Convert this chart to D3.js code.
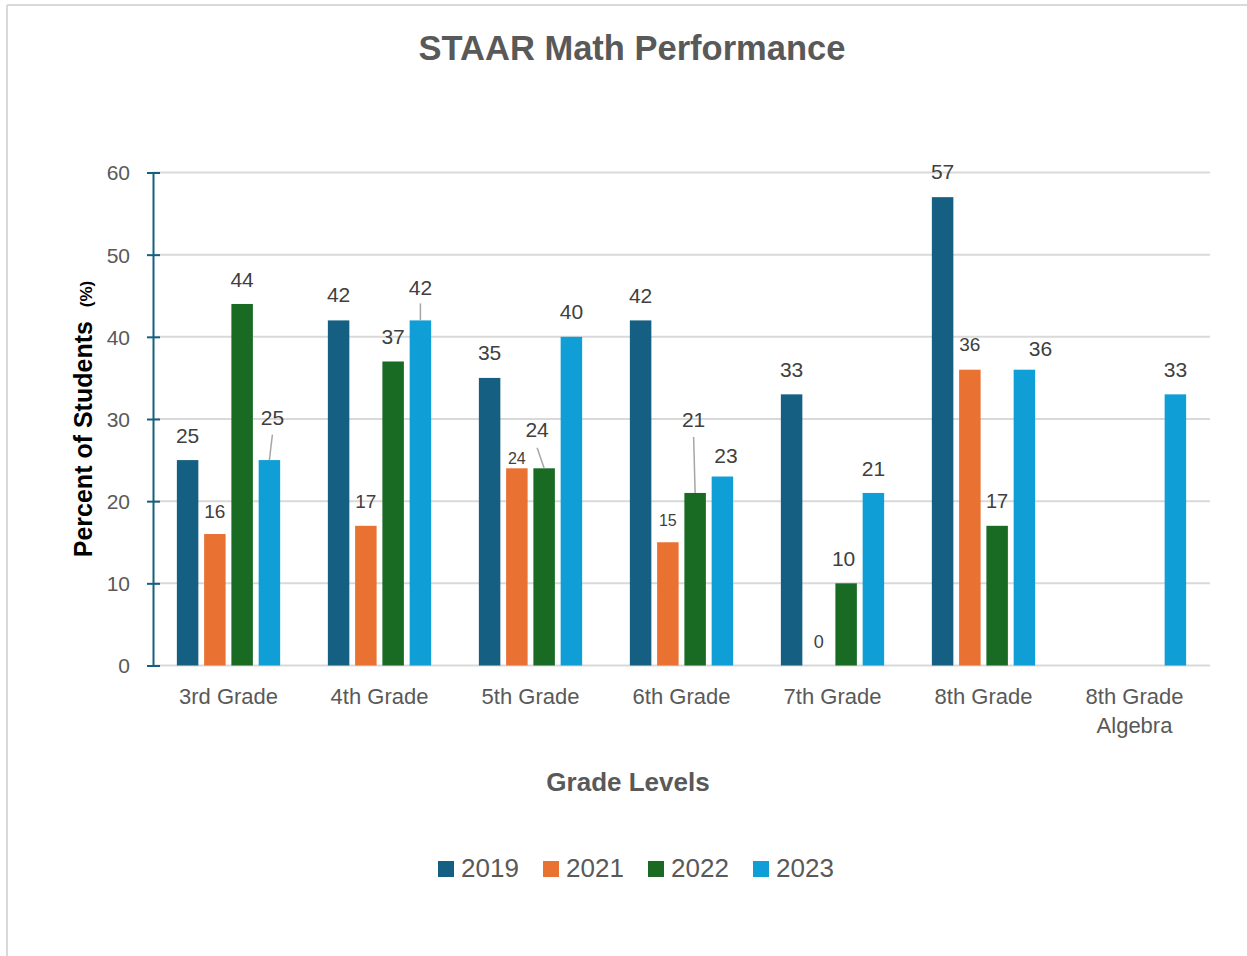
<!DOCTYPE html>
<html>
<head>
<meta charset="utf-8">
<script src="https://cdn.jsdelivr.net/npm/d3@7"></script>
<style>
  html, body { margin: 0; padding: 0; background: #fff; }
  svg { display: block; font-family: "Liberation Sans", Arial, sans-serif; }
</style>
</head>
<body>
<svg id="chart" width="1247" height="956"></svg>
<script>
// ---- data ----
const categories = ["3rd Grade", "4th Grade", "5th Grade", "6th Grade", "7th Grade", "8th Grade", "8th Grade Algebra"];
const categoryLines = [["3rd Grade"], ["4th Grade"], ["5th Grade"], ["6th Grade"], ["7th Grade"], ["8th Grade"], ["8th Grade", "Algebra"]];
const seriesNames = ["2019", "2021", "2022", "2023"];
const values2019 = [25, 42, 35, 42, 33, 57, null];
const values2021 = [16, 17, 24, 15, 0, 36, null];
const values2022 = [44, 37, 24, 21, 10, 17, null];
const values2023 = [25, 42, 40, 23, 21, 36, 33];
const yTicks = [0, 10, 20, 30, 40, 50, 60];
const chartTitle = "STAAR Math Performance";
const xTitle = "Grade Levels";

// ---- styles ----
const colors = { "2019": "#156082", "2021": "#E97132", "2022": "#196B24", "2023": "#0F9ED5" };
const seriesValues = { "2019": values2019, "2021": values2021, "2022": values2022, "2023": values2023 };

// label placement tweaks (layout only): dx, dy from bar top centre, font size, leader line
const labelTweaks = {
  "3rd Grade|2021": { size: 19, dy: -23 },
  "3rd Grade|2023": { dx: 3, dy: -42.5, leader: 17 },
  "4th Grade|2019": { dy: -26 },
  "4th Grade|2021": { size: 19, dy: -24 },
  "4th Grade|2023": { dy: -33, leader: 16 },
  "5th Grade|2021": { size: 16, dy: -10 },
  "5th Grade|2022": { dx: -7, dy: -38.6, leader: 18 },
  "6th Grade|2021": { size: 16, dy: -22 },
  "6th Grade|2022": { dx: -1.5, dy: -73, leader: 17 },
  "6th Grade|2023": { dx: 3.5, dy: -21 },
  "7th Grade|2021": { size: 18, dy: -24 },
  "7th Grade|2022": { dx: -2.5, dy: -25 },
  "8th Grade|2019": { dy: -26 },
  "8th Grade|2021": { size: 19, dy: -25 },
  "8th Grade|2022": { size: 20, dy: -25 },
  "8th Grade|2023": { dx: 16, dy: -21 }
};

const svg = d3.select("#chart");

// outer border (top and left visible)
svg.append("line").attr("x1", 7).attr("x2", 1247).attr("y1", 5).attr("y2", 5)
  .attr("stroke", "#d9d9d9").attr("stroke-width", 2);
svg.append("line").attr("x1", 7).attr("x2", 7).attr("y1", 5).attr("y2", 956)
  .attr("stroke", "#d9d9d9").attr("stroke-width", 2);

// scales
const plotLeft = 153, plotRight = 1210, plotTop = 172.5, plotBottom = 665.5;
const y = d3.scaleLinear().domain([0, 60]).range([plotBottom, plotTop]);
const x0 = d3.scaleBand().domain(categories).range([plotLeft, plotRight])
  .paddingInner(0.316).paddingOuter(0.158);
const x1 = d3.scaleBand().domain(seriesNames).range([0, x0.bandwidth()])
  .paddingInner(0.2116).paddingOuter(0);

// gridlines
svg.append("g").selectAll("line").data(yTicks).join("line")
  .attr("x1", plotLeft).attr("x2", plotRight)
  .attr("y1", d => y(d)).attr("y2", d => y(d))
  .attr("stroke", "#d9d9d9").attr("stroke-width", 2);

// y axis
const yAxis = d3.axisLeft(y).tickValues(yTicks).tickSizeInner(6).tickSizeOuter(0).tickPadding(17);
const gy = svg.append("g").attr("transform", `translate(${plotLeft},0)`).call(yAxis);
gy.select(".domain").attr("stroke", "#156082").attr("stroke-width", 2);
gy.selectAll(".tick line").attr("stroke", "#156082").attr("stroke-width", 2).attr("x1", 7).attr("x2", -6);
gy.selectAll(".tick text").attr("fill", "#595959").attr("font-size", 21)
  .attr("font-family", "Liberation Sans, Arial, sans-serif").attr("dy", "0.35em");

// bars
const flat = [];
categories.forEach((c, i) => {
  seriesNames.forEach(s => {
    const v = seriesValues[s][i];
    if (v !== null && v !== undefined) flat.push({ cat: c, series: s, value: v });
  });
});

svg.append("g").selectAll("rect").data(flat).join("rect")
  .attr("x", d => x0(d.cat) + x1(d.series))
  .attr("y", d => y(d.value))
  .attr("width", x1.bandwidth())
  .attr("height", d => y(0) - y(d.value))
  .attr("fill", d => colors[d.series]);

// data labels
const lg = svg.append("g");
flat.forEach(d => {
  const t = labelTweaks[d.cat + "|" + d.series] || {};
  const cx = x0(d.cat) + x1(d.series) + x1.bandwidth() / 2;
  const top = y(d.value);
  const lx = cx + (t.dx || 0);
  const ly = top + (t.dy !== undefined ? t.dy : -24.8);
  if (t.leader) {
    lg.append("line").attr("x1", lx).attr("y1", ly + t.leader).attr("x2", cx).attr("y2", top)
      .attr("stroke", "#a6a6a6").attr("stroke-width", 1.5);
  }
  lg.append("text").attr("x", lx).attr("y", ly).attr("dy", "0.35em")
    .attr("text-anchor", "middle").attr("fill", "#404040")
    .attr("font-size", t.size || 21).text(d.value);
});

// category labels
const cg = svg.append("g");
categories.forEach((c, i) => {
  const cx = x0(c) + x0.bandwidth() / 2;
  const txt = cg.append("text").attr("text-anchor", "middle").attr("fill", "#595959").attr("font-size", 22);
  categoryLines[i].forEach((line, j) => {
    txt.append("tspan").attr("x", cx).attr("y", 704 + j * 29).text(line);
  });
});

// titles
svg.append("text").attr("x", 632).attr("y", 60).attr("text-anchor", "middle")
  .attr("font-size", 34.5).attr("font-weight", "bold").attr("fill", "#595959").text(chartTitle);

svg.append("text").attr("x", 628).attr("y", 791).attr("text-anchor", "middle")
  .attr("font-size", 26).attr("font-weight", "bold").attr("fill", "#595959").text(xTitle);

const yt = svg.append("text").attr("transform", "translate(91.5,419) rotate(-90)")
  .attr("text-anchor", "middle").attr("font-weight", "bold").attr("fill", "#000");
yt.append("tspan").attr("font-size", 25).text("Percent of Students");
yt.append("tspan").attr("font-size", 25).text("\u00a0\u00a0");
yt.append("tspan").attr("font-size", 17).text("(%)");

// legend
const legend = svg.append("g");
seriesNames.forEach((s, i) => {
  const lx = 438 + i * 105;
  legend.append("rect").attr("x", lx).attr("y", 861).attr("width", 16).attr("height", 16).attr("fill", colors[s]);
  legend.append("text").attr("x", lx + 23).attr("y", 877).attr("font-size", 26).attr("fill", "#595959").text(s);
});
</script>
</body>
</html>
